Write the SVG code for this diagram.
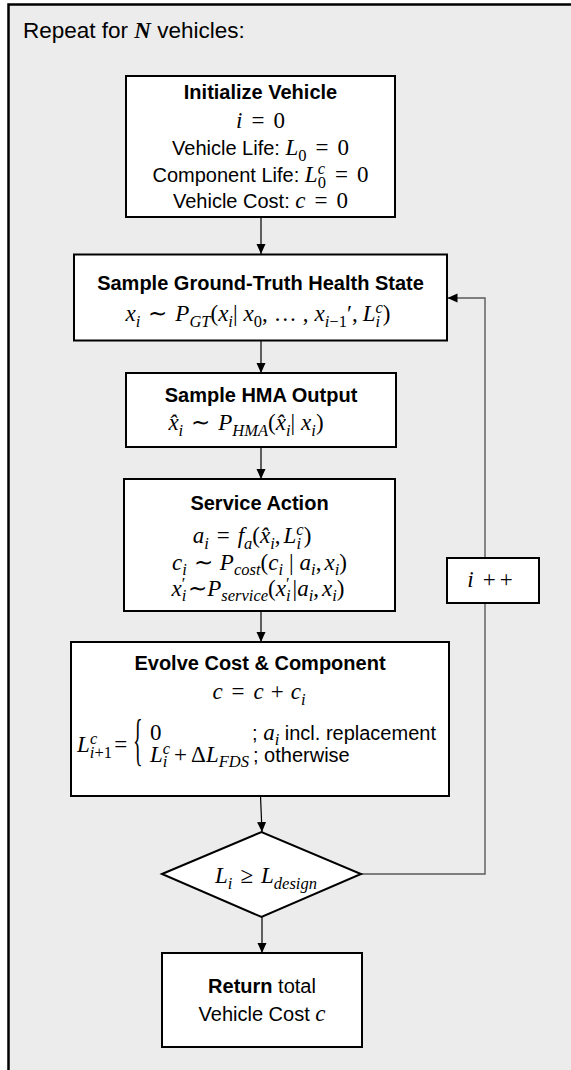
<svg xmlns="http://www.w3.org/2000/svg" width="571" height="1070" viewBox="0 0 571 1070">
<defs>
<marker id="ah" markerUnits="userSpaceOnUse" markerWidth="10" markerHeight="10" refX="10" refY="5" orient="auto"><path d="M0,0.5 L10,5 L0,9.5 z" fill="#000"/></marker>
</defs>
<style>
.frame{fill:#ececec;stroke:#000;stroke-width:2.5}
.box{fill:#fff;stroke:#000;stroke-width:2}
.t{font-family:"Liberation Sans",Arial,sans-serif;font-size:20px;fill:#000}
.tb{font-family:"Liberation Sans",Arial,sans-serif;font-size:20px;font-weight:bold;fill:#000}
.c{text-anchor:middle}
.mt{font-family:"Liberation Serif","Times New Roman",serif;font-size:23px;fill:#000}
.mi{font-family:"Liberation Serif","Times New Roman",serif;font-style:italic}
.mu{font-family:"Liberation Serif","Times New Roman",serif;font-style:normal}
.mf{font-size:23px}
.s{font-size:16.5px}
.conn{stroke:#000;stroke-width:1.2;fill:none}
.loop{stroke:#5a5a5a;stroke-width:1.4;fill:none}
</style>
<rect class="frame" x="8.5" y="4.5" width="600" height="1100"/>
<text class="t" x="23" y="38" style="font-size:22.5px">Repeat for <tspan class="mi" style="font-weight:bold;font-size:23px">N</tspan> vehicles:</text>

<g id="connectors">
<line class="conn" x1="261" y1="217" x2="261" y2="254" marker-end="url(#ah)"/>
<line class="conn" x1="261" y1="341" x2="261" y2="373" marker-end="url(#ah)"/>
<line class="conn" x1="261" y1="447" x2="261" y2="479" marker-end="url(#ah)"/>
<line class="conn" x1="261" y1="611" x2="261" y2="642" marker-end="url(#ah)"/>
<line class="conn" x1="260.5" y1="796" x2="262" y2="832" marker-end="url(#ah)"/>
<line class="conn" x1="262" y1="917" x2="262" y2="953" marker-end="url(#ah)"/>
<polyline class="loop" points="361,874 485,874 485,603"/>
<polyline class="loop" points="485,558 485,298 447.5,298" marker-end="url(#ah)"/>
</g>

<g id="init">
<rect class="box" x="126" y="76" width="269" height="141"/>
<text class="tb c" x="260.5" y="99">Initialize Vehicle</text>
<text class="mt c" x="260.5" y="128"><tspan class="mi">i</tspan><tspan dx="9">=</tspan><tspan dx="9">0</tspan></text>
<text class="t c" x="260.5" y="155">Vehicle Life: <tspan class="mi mf">L</tspan><tspan class="mu s" dy="5.5">0</tspan><tspan class="mu mf" dx="9" dy="-5.5">=</tspan><tspan class="mu mf" dx="9">0</tspan></text>
<text class="t c" x="260.5" y="182">Component Life: <tspan class="mi mf">L</tspan><tspan class="mu s" dy="5.5">0</tspan><tspan class="mi s" dx="-8.2" dy="-14">c</tspan><tspan class="mu mf" dx="10" dy="8.5">=</tspan><tspan class="mu mf" dx="9">0</tspan></text>
<text class="t c" x="260.5" y="208">Vehicle Cost: <tspan class="mi mf">c</tspan><tspan class="mu mf" dx="9">=</tspan><tspan class="mu mf" dx="9">0</tspan></text>
</g>

<g id="ground-truth">
<rect class="box" x="74" y="254.5" width="373" height="86"/>
<text class="tb c" x="260.5" y="290">Sample Ground-Truth Health State</text>
<text class="mt c" x="258" y="321"><tspan class="mi">x</tspan><tspan class="mi s" dy="5.5">i</tspan><tspan dx="8" dy="-5.5">∼</tspan><tspan class="mi" dx="8">P</tspan><tspan class="mi s" dy="5.5">GT</tspan><tspan dy="-5.5">(</tspan><tspan class="mi">x</tspan><tspan class="mi s" dy="5.5">i</tspan><tspan dy="-5.5">|</tspan><tspan class="mi" dx="6">x</tspan><tspan class="s" dy="5.5">0</tspan><tspan dy="-5.5">,</tspan><tspan dx="6">…</tspan><tspan dx="6">,</tspan><tspan class="mi" dx="6">x</tspan><tspan class="mi s" dy="5.5">i</tspan><tspan class="s">−1</tspan><tspan dy="-5.5">′,</tspan><tspan class="mi" dx="5">L</tspan><tspan class="mi s" dy="5.5">i</tspan><tspan class="mi s" dx="-4.6" dy="-14">c</tspan><tspan dy="8.5">)</tspan></text>
</g>

<g id="hma">
<rect class="box" x="126" y="373" width="270" height="74"/>
<text class="tb c" x="261" y="402">Sample HMA Output</text>
<text class="mt c" x="246" y="430"><tspan class="mi">x̂</tspan><tspan class="mi s" dy="5.5">i</tspan><tspan dx="8" dy="-5.5">∼</tspan><tspan class="mi" dx="8">P</tspan><tspan class="mi s" dy="5.5">HMA</tspan><tspan dy="-5.5">(</tspan><tspan class="mi">x̂</tspan><tspan class="mi s" dy="5.5">i</tspan><tspan dy="-5.5">|</tspan><tspan class="mi" dx="6">x</tspan><tspan class="mi s" dy="5.5">i</tspan><tspan dy="-5.5">)</tspan></text>
</g>

<g id="service">
<rect class="box" x="124" y="479" width="271" height="132"/>
<text class="tb c" x="259.5" y="510">Service Action</text>
<text class="mt c" x="252" y="543"><tspan class="mi">a</tspan><tspan class="mi s" dy="5.5">i</tspan><tspan dx="8" dy="-5.5">=</tspan><tspan class="mi" dx="8">f</tspan><tspan class="mi s" dy="5.5">a</tspan><tspan dy="-5.5">(</tspan><tspan class="mi">x̂</tspan><tspan class="mi s" dy="5.5">i</tspan><tspan dy="-5.5">,</tspan><tspan class="mi" dx="3">L</tspan><tspan class="mi s" dy="5.5">i</tspan><tspan class="mi s" dx="-4.6" dy="-14">c</tspan><tspan dy="8.5">)</tspan></text>
<text class="mt c" x="259.5" y="570"><tspan class="mi">c</tspan><tspan class="mi s" dy="5">i</tspan><tspan dx="7" dy="-5">∼</tspan><tspan class="mi" dx="7">P</tspan><tspan class="mi s" dy="5">cost</tspan><tspan dy="-5">(</tspan><tspan class="mi">c</tspan><tspan class="mi s" dy="5">i</tspan><tspan dx="6" dy="-5">|</tspan><tspan class="mi" dx="6">a</tspan><tspan class="mi s" dy="5">i</tspan><tspan dy="-5">,</tspan><tspan class="mi" dx="3">x</tspan><tspan class="mi s" dy="5">i</tspan><tspan dy="-5">)</tspan></text>
<text class="mt c" x="258" y="596"><tspan class="mi">x</tspan><tspan class="mi s" dy="5">i</tspan><tspan class="s" dx="-4.6" dy="-12">′</tspan><tspan dx="3" dy="7">∼</tspan><tspan class="mi">P</tspan><tspan class="mi s" dy="5">service</tspan><tspan dy="-5">(</tspan><tspan class="mi">x</tspan><tspan class="mi s" dy="5">i</tspan><tspan class="s" dx="-4.6" dy="-12">′</tspan><tspan dx="3" dy="7">|</tspan><tspan class="mi">a</tspan><tspan class="mi s" dy="5">i</tspan><tspan dy="-5">,</tspan><tspan class="mi" dx="3">x</tspan><tspan class="mi s" dy="5">i</tspan><tspan dy="-5">)</tspan></text>
</g>

<g id="increment">
<rect class="box" x="447" y="558" width="92" height="45"/>
<text class="mt c" x="490" y="587"><tspan class="mi">i</tspan><tspan dx="9">+</tspan><tspan dx="4">+</tspan></text>
</g>

<g id="evolve">
<rect class="box" x="71" y="642" width="378" height="154"/>
<text class="tb c" x="260" y="670">Evolve Cost &amp; Component</text>
<text class="mt c" x="259" y="699"><tspan class="mi">c</tspan><tspan dx="9">=</tspan><tspan class="mi" dx="9">c</tspan><tspan dx="7">+</tspan><tspan class="mi" dx="7">c</tspan><tspan class="mi s" dy="5.5">i</tspan></text>
<text class="mt" x="77" y="752"><tspan class="mi">L</tspan><tspan class="mi s" dy="5.5">i</tspan><tspan class="s">+1</tspan><tspan class="mi s" dx="-22" dy="-14">c</tspan><tspan dx="17" dy="8.5">=</tspan></text>
<text class="mt" transform="translate(133,759) scale(0.36,1)" style="font-size:56px">{</text>
<text class="mt" x="150" y="740">0</text>
<text class="t" x="252" y="740">; <tspan class="mi mf">a</tspan><tspan class="mi s" dy="5">i</tspan><tspan dy="-5"> incl. replacement</tspan></text>
<text class="mt" x="150" y="762"><tspan class="mi">L</tspan><tspan class="mi s" dy="5">i</tspan><tspan class="mi s" dx="-4.6" dy="-13">c</tspan><tspan dx="4" dy="8">+</tspan><tspan dx="4">Δ</tspan><tspan class="mi">L</tspan><tspan class="mi s" dy="5">FDS</tspan></text>
<text class="t" x="253" y="762">; otherwise</text>
</g>

<g id="decision">
<polygon points="162,874 261.5,832 361,874 261.5,917" fill="#fff" stroke="#000" stroke-width="2"/>
<text class="mt c" x="266" y="883"><tspan class="mi">L</tspan><tspan class="mi s" dy="5.5">i</tspan><tspan dx="8" dy="-5.5">≥</tspan><tspan class="mi" dx="8">L</tspan><tspan class="mi s" dy="5.5">design</tspan></text>
</g>

<g id="return">
<rect class="box" x="162" y="953" width="200" height="94"/>
<text class="t c" x="262" y="993"><tspan class="tb">Return</tspan> total</text>
<text class="t c" x="262" y="1021">Vehicle Cost <tspan class="mi mf">c</tspan></text>
</g>
</svg>
